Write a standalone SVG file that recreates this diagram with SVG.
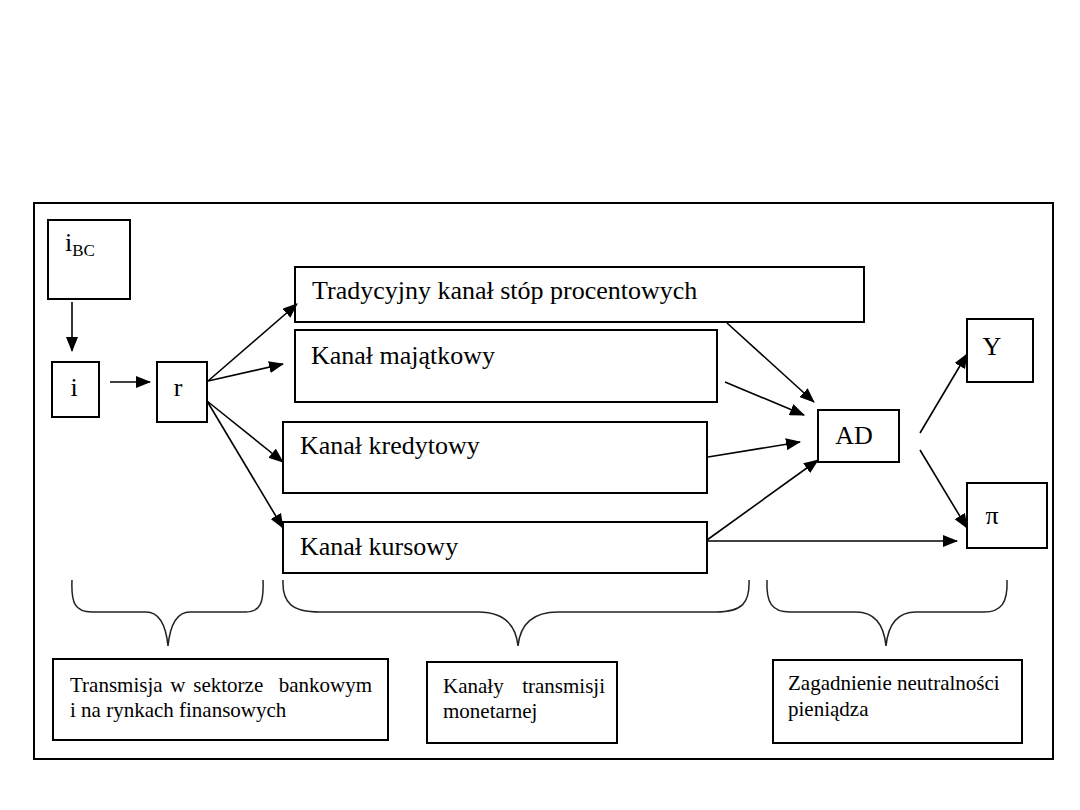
<svg xmlns="http://www.w3.org/2000/svg" width="1080" height="810" viewBox="0 0 1080 810">
<style>
.box{fill:#fff;stroke:#000;stroke-width:2}
.frame{fill:none;stroke:#000;stroke-width:2}
.t{font-family:"Liberation Serif","DejaVu Serif",serif;fill:#000}
.big{font-size:26px}
.small{font-size:21px}
.edge{stroke:#000;stroke-width:1.6;fill:none;marker-end:url(#ah)}
.brace{stroke:#222;stroke-width:1.5;fill:none}
</style>
<defs>
<marker id="ah" markerUnits="userSpaceOnUse" markerWidth="15" markerHeight="12" refX="14" refY="6" orient="auto">
<path d="M0,0 L15,6 L0,12 Z" fill="#000"/>
</marker>
</defs>
<rect width="1080" height="810" fill="#fff"/>
<rect class="frame" x="34" y="203" width="1019" height="556"/>

<g id="n_ibc"><rect class="box" x="48" y="220" width="82" height="79"/><text class="t big" x="65" y="251">i<tspan font-size="17" dy="5">BC</tspan></text></g>
<g id="n_i"><rect class="box" x="52" y="362" width="47" height="55"/><text class="t big" x="74" y="396" text-anchor="middle">i</text></g>
<g id="n_r"><rect class="box" x="157" y="362" width="50" height="60"/><text class="t big" x="178" y="396" text-anchor="middle">r</text></g>
<g id="n_trad"><rect class="box" x="295" y="267" width="569" height="55"/><text class="t big" x="312" y="299">Tradycyjny kanał stóp procentowych</text></g>
<g id="n_maj"><rect class="box" x="295" y="330" width="422" height="72"/><text class="t big" x="311" y="364">Kanał majątkowy</text></g>
<g id="n_kred"><rect class="box" x="283" y="422" width="424" height="71"/><text class="t big" x="300" y="454">Kanał kredytowy</text></g>
<g id="n_kurs"><rect class="box" x="283" y="522" width="424" height="51"/><text class="t big" x="300" y="555">Kanał kursowy</text></g>
<g id="n_ad"><rect class="box" x="818" y="410" width="81" height="52"/><text class="t big" x="854" y="444" text-anchor="middle">AD</text></g>
<g id="n_y"><rect class="box" x="967" y="319" width="66" height="63"/><text class="t big" x="992" y="355" text-anchor="middle">Y</text></g>
<g id="n_pi"><rect class="box" x="967" y="483" width="80" height="65"/><text class="t big" x="992" y="524" text-anchor="middle">π</text></g>

<g id="n_b1"><rect class="box" x="53" y="659" width="335" height="81"/><text class="t small" x="70" y="692" xml:space="preserve" word-spacing="2.5">Transmisja w sektorze  bankowym</text><text class="t small" x="70" y="717">i na rynkach finansowych</text></g>
<g id="n_b2"><rect class="box" x="427" y="662" width="190" height="81"/><text class="t small" x="443" y="693" xml:space="preserve" word-spacing="4">Kanały  transmisji</text><text class="t small" x="443" y="718">monetarnej</text></g>
<g id="n_b3"><rect class="box" x="773" y="660" width="249" height="83"/><text class="t small" x="788" y="690">Zagadnienie neutralności</text><text class="t small" x="788" y="716">pieniądza</text></g>

<g id="braces">
<path class="brace" d="M72,580 C71,603 75,612 92,612 L146,612 C160,612 166,626 168,646 C170,626 176,612 190,612 L246,612 C260,612 264,603 263,580"/>
<path class="brace" d="M283,580 C282,603 292,612 320,612 L478,612 C505,612 516,626 518,646 C520,626 531,612 558,612 L716,612 C742,612 750,603 749,580"/>
<path class="brace" d="M767,580 C766,603 772,612 790,612 L856,612 C875,612 884,626 886,646 C888,626 897,612 916,612 L984,612 C1001,612 1008,603 1007,580"/>
</g>

<g id="connectors">
<line class="edge" x1="72" y1="302" x2="72" y2="351"/>
<line class="edge" x1="110" y1="382" x2="150" y2="382"/>
<line class="edge" x1="208" y1="381" x2="297" y2="304"/>
<line class="edge" x1="208" y1="381" x2="283" y2="364"/>
<line class="edge" x1="207" y1="401" x2="283" y2="462"/>
<line class="edge" x1="207" y1="401" x2="283" y2="528"/>
<line class="edge" x1="727" y1="323" x2="814" y2="402"/>
<line class="edge" x1="725" y1="382" x2="804" y2="415"/>
<line class="edge" x1="708" y1="457" x2="800" y2="442"/>
<line class="edge" x1="707" y1="540" x2="818" y2="460"/>
<line class="edge" x1="707" y1="541" x2="957" y2="541"/>
<line class="edge" x1="920" y1="433" x2="967" y2="354"/>
<line class="edge" x1="920" y1="450" x2="967" y2="528"/>
</g>
</svg>
